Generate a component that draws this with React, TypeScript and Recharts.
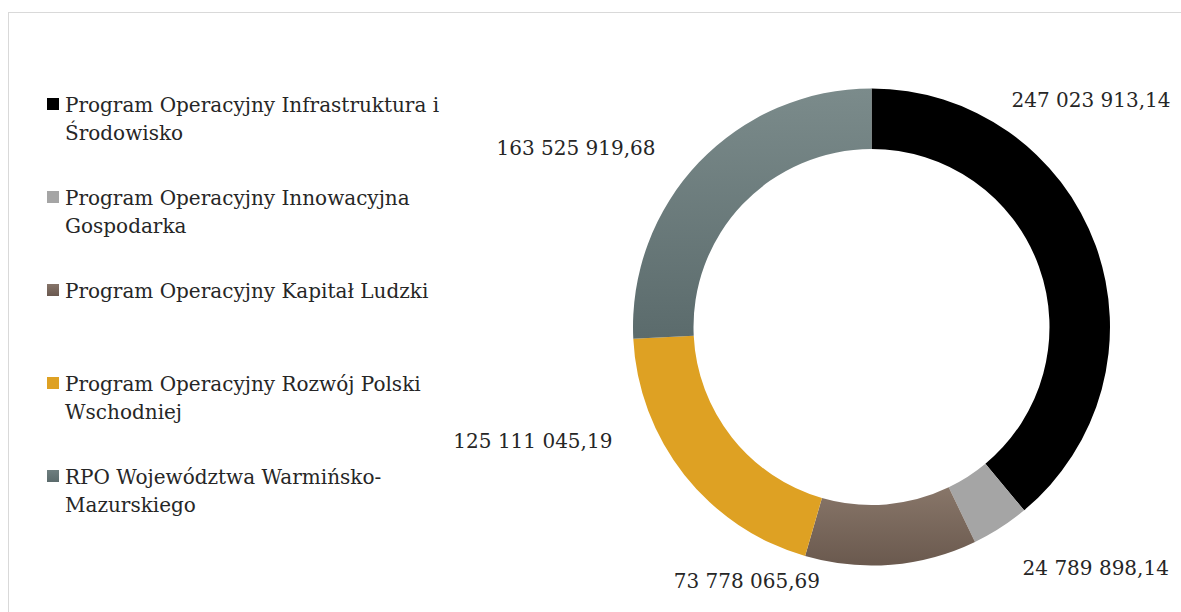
import { PieChart, Pie, Cell } from "recharts"

const programs = [
  "Program Operacyjny Infrastruktura i Środowisko",
  "Program Operacyjny Innowacyjna Gospodarka",
  "Program Operacyjny Kapitał Ludzki",
  "Program Operacyjny Rozwój Polski Wschodniej",
  "RPO Województwa Warmińsko-Mazurskiego",
]

const amounts = [247023913.14, 24789898.14, 73778065.69, 125111045.19, 163525919.68]

const FILLS = [
  "#000000",
  "#a5a5a5",
  "url(#gradBrown)",
  "#dea123",
  "url(#gradSlate)",
]

const MARKERS = [
  "#000000",
  "#a5a5a5",
  "linear-gradient(#867469, #6a594f)",
  "#dea123",
  "linear-gradient(#6e7e7f, #5b6b6c)",
]

// Excel-style hand placed labels: shift from the point just outside each slice
const LABEL_NUDGE = [
  [-33, -136],
  [79, 15],
  [-147, -14],
  [-128, -53],
  [-101, 6],
]

const FONT = "'DejaVu Serif', serif"
const TEXT = "#262626"
const RAD = Math.PI / 180

const chartData = programs.map((name, i) => ({ name, value: amounts[i] }))

function formatPl(v: number) {
  const [int, dec] = v.toFixed(2).split(".")
  return int.replace(/\B(?=(\d{3})+(?!\d))/g, " ") + "," + dec
}

function renderLabel(props: any) {
  const { cx, cy, midAngle, outerRadius, index, value } = props
  const r = outerRadius + 30
  const x = cx + r * Math.cos(-midAngle * RAD) + LABEL_NUDGE[index][0]
  const y = cy + r * Math.sin(-midAngle * RAD) + LABEL_NUDGE[index][1]
  return (
    <text
      key={`lbl-${index}`}
      x={x}
      y={y + 7}
      textAnchor="middle"
      fill={TEXT}
      fontFamily={FONT}
      fontSize={20}
    >
      {formatPl(value)}
    </text>
  )
}

function LegendList() {
  return (
    <div
      style={{
        position: "absolute",
        left: 38,
        top: 78,
        width: 440,
        fontFamily: FONT,
        fontSize: 20,
        lineHeight: "28px",
        color: TEXT,
      }}
    >
      {programs.map((name, i) => (
        <div key={name} style={{ display: "flex", alignItems: "flex-start", height: 93 }}>
          <span
            style={{
              width: 12,
              height: 12,
              marginTop: 7,
              marginRight: 6,
              flex: "none",
              background: MARKERS[i],
            }}
          />
          <span style={{ width: 400 }}>{name}</span>
        </div>
      ))}
    </div>
  )
}

export default function App() {
  return (
    <div
      style={{
        position: "absolute",
        left: 8,
        top: 12,
        width: 1173,
        height: 600,
        overflow: "hidden",
        borderTop: "1px solid #d9d9d9",
        borderLeft: "1px solid #d9d9d9",
        background: "#fff",
      }}
    >
      <PieChart width={1189} height={609} margin={{ top: 0, right: 0, bottom: 0, left: 0 }}>
        <defs>
          <linearGradient id="gradSlate" x1="0" y1="0" x2="0" y2="1">
            <stop offset="0%" stopColor="#7b8b8b" />
            <stop offset="100%" stopColor="#5b6b6c" />
          </linearGradient>
          <linearGradient id="gradBrown" x1="0" y1="0" x2="0" y2="1">
            <stop offset="0%" stopColor="#887669" />
            <stop offset="100%" stopColor="#6a594e" />
          </linearGradient>
        </defs>
        <Pie
          data={chartData}
          dataKey="value"
          nameKey="name"
          cx={862.5}
          cy={314}
          innerRadius={178}
          outerRadius={238.5}
          startAngle={90}
          endAngle={-270}
          stroke="none"
          labelLine={false}
          label={renderLabel}
          isAnimationActive={false}
        >
          {chartData.map((entry, index) => (
            <Cell key={`cell-${index}`} fill={FILLS[index]} />
          ))}
        </Pie>
      </PieChart>
      <LegendList />
    </div>
  )
}
